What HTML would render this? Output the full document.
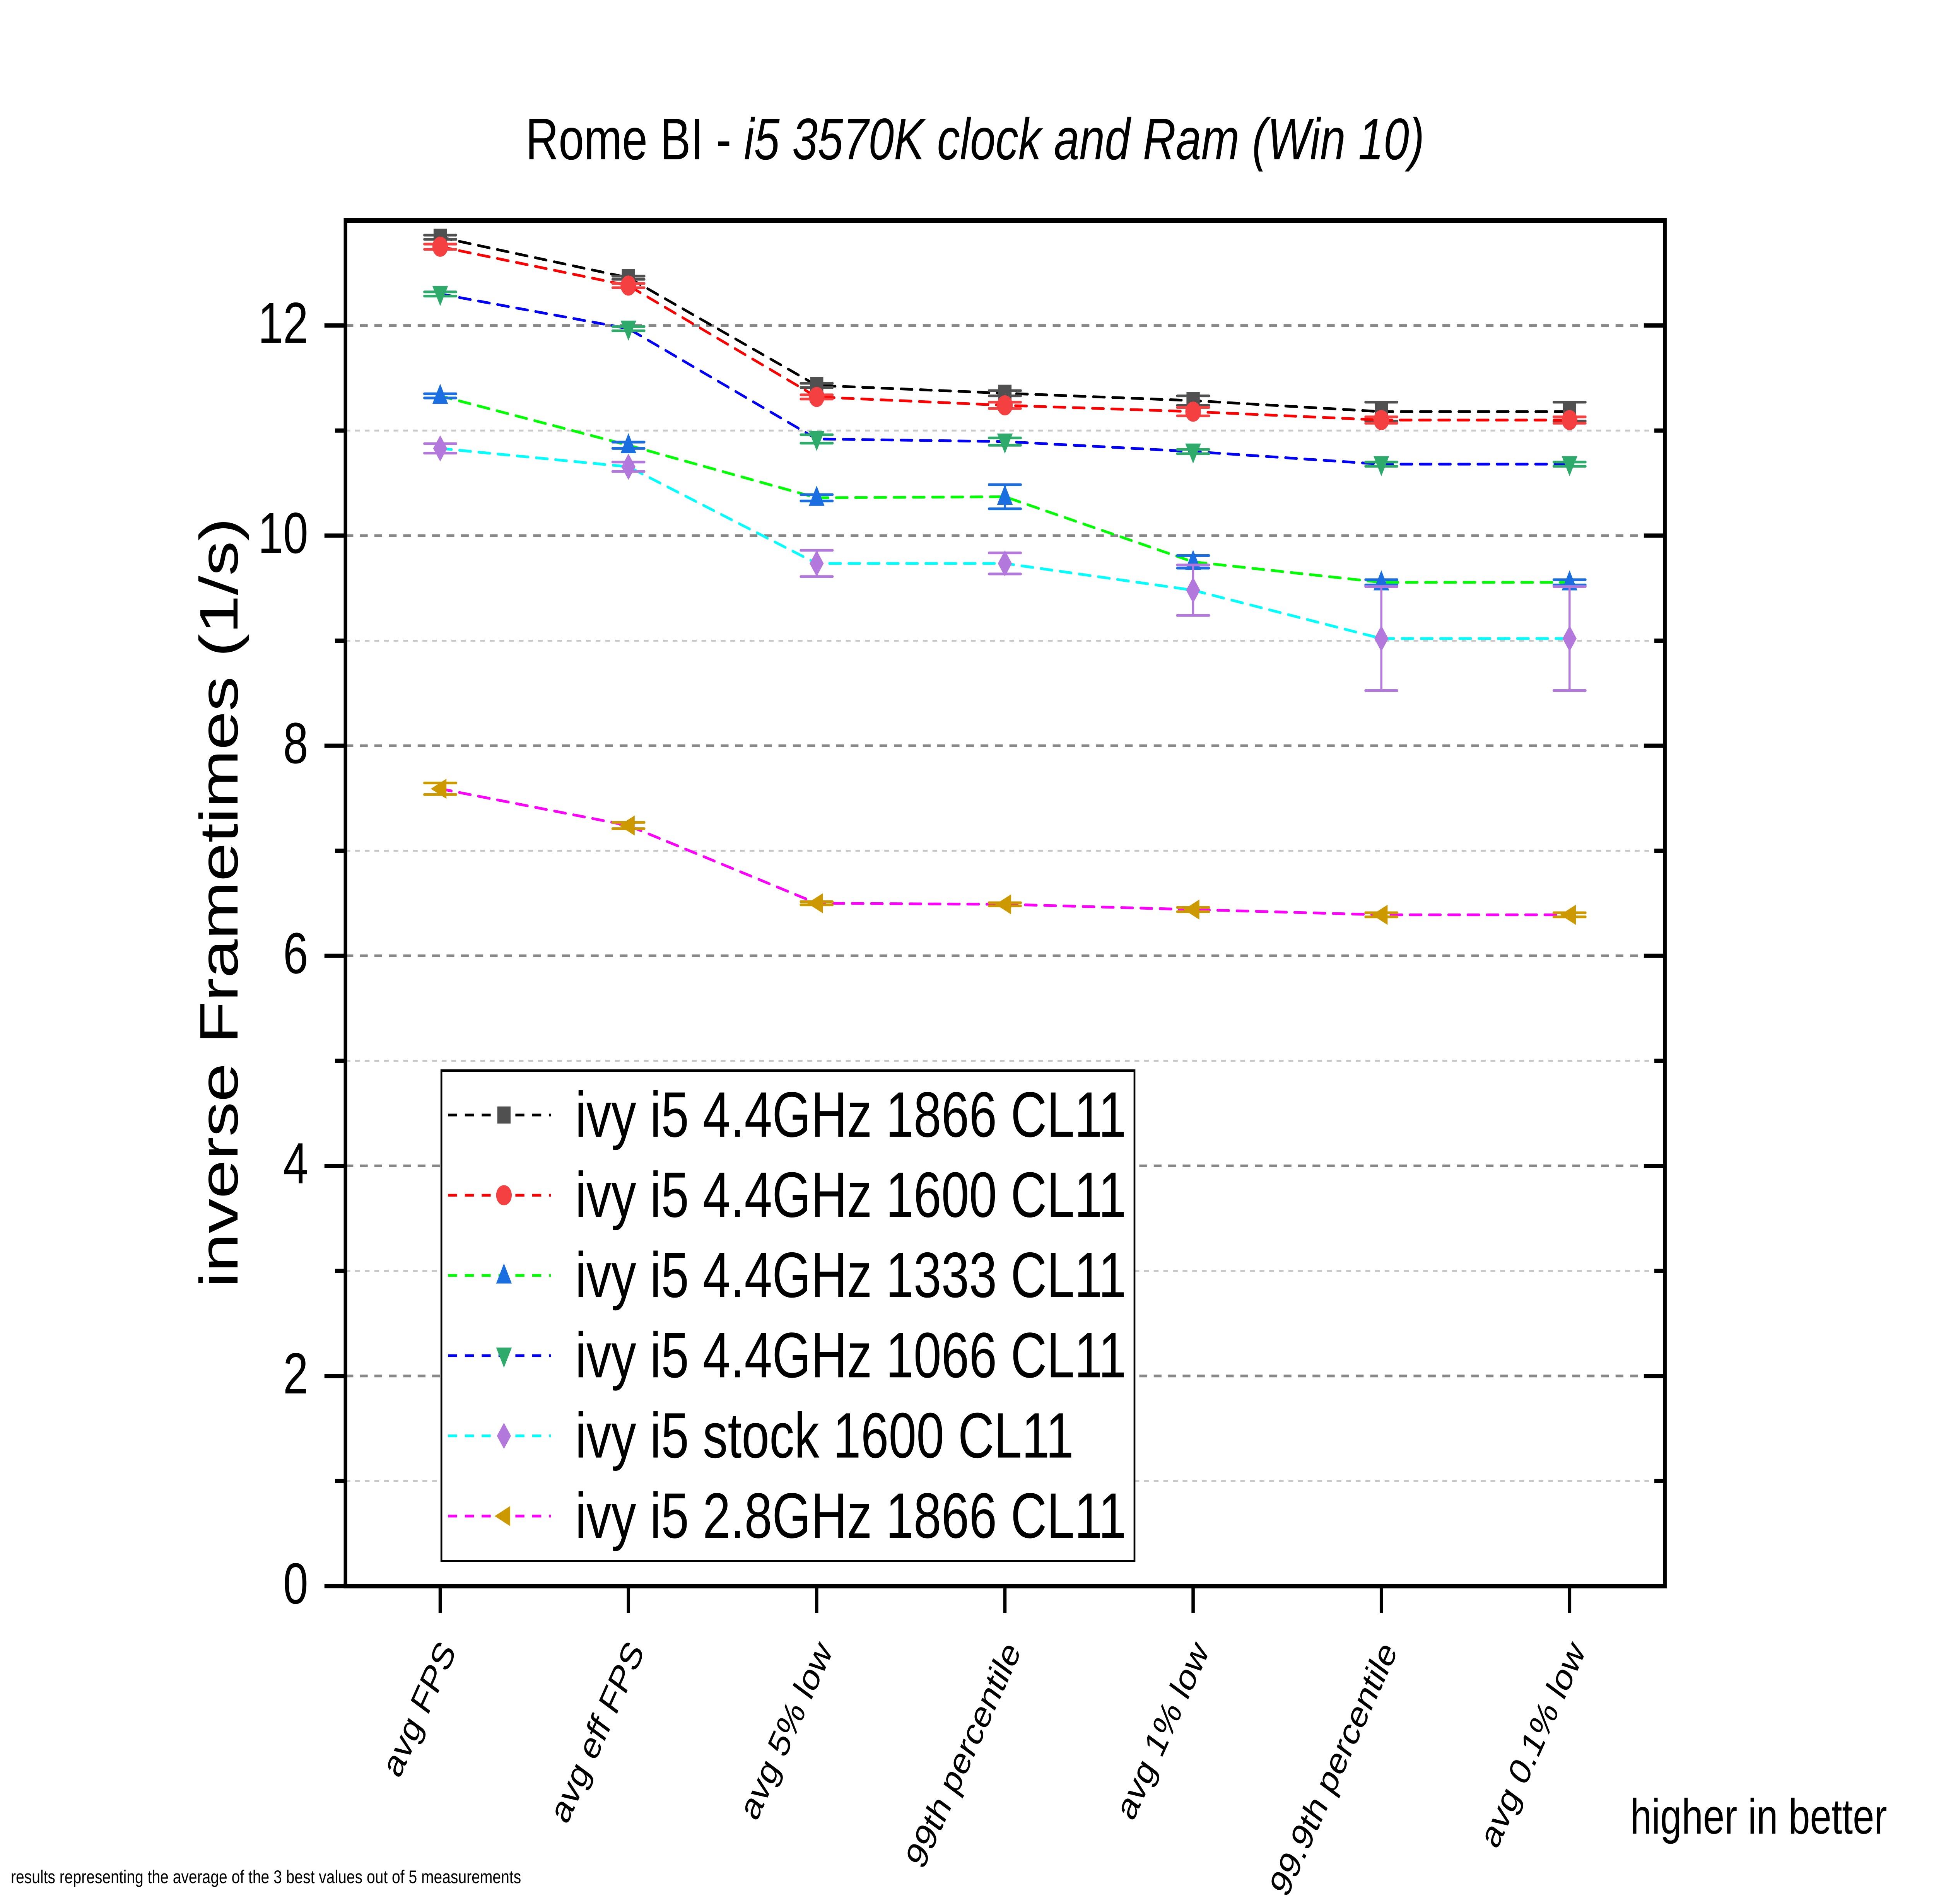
<!DOCTYPE html>
<html><head><meta charset="utf-8"><style>
html,body{margin:0;padding:0;background:#fff;width:100%;height:100%;overflow:hidden;}
svg{display:block;font-family:"Liberation Sans",Arial,sans-serif;width:100vw;height:100vh;}
</style></head><body>
<svg id="chart" xmlns="http://www.w3.org/2000/svg" viewBox="0 0 6432 4923" preserveAspectRatio="none">
<rect x="0" y="0" width="6432" height="4923" fill="#fff"/>
<text x="1748" y="412" font-size="152">Rome BI - <tspan font-style="italic">i5 3570K clock and Ram (Win 10)</tspan></text>
<g id="grid"></g>
<g id="series"></g>
<g id="axes"></g>
<text x="790" y="2334" font-size="180" text-anchor="middle" transform="rotate(-90 790 2334)">inverse Frametimes (1/s)</text>
<g id="legend"></g>
<text x="5422" y="4741" font-size="128">higher in better</text>
<text x="36" y="4869" font-size="47" textLength="1697" lengthAdjust="spacingAndGlyphs">results representing the average of the 3 best values out of 5 measurements</text>
</svg>
<script>
const categories = ["avg FPS","avg eff FPS","avg 5% low","99th percentile","avg 1% low","99.9th percentile","avg 0.1% low"];
const seriesNames = ["ivy i5 4.4GHz 1866 CL11","ivy i5 4.4GHz 1600 CL11","ivy i5 4.4GHz 1333 CL11","ivy i5 4.4GHz 1066 CL11","ivy i5 stock 1600 CL11","ivy i5 2.8GHz 1866 CL11"];
const s1866 = [12.84,12.455,11.43,11.355,11.285,11.18,11.18];
const e1866 = [0.02,0.015,0.02,0.025,0.045,0.09,0.09];
const s1600 = [12.75,12.38,11.32,11.24,11.18,11.10,11.10];
const e1600 = [0.025,0.02,0.02,0.03,0.04,0.03,0.03];
const s1333 = [11.33,10.86,10.36,10.37,9.75,9.555,9.555];
const e1333 = [0.02,0.03,0.03,0.115,0.06,0.025,0.025];
const s1066 = [12.30,11.97,10.92,10.895,10.80,10.68,10.68];
const e1066 = [0.02,0.02,0.04,0.035,0.02,0.02,0.02];
const sStock = [10.83,10.655,9.735,9.735,9.48,9.02,9.02];
const eStock = [0.045,0.045,0.125,0.10,0.24,0.495,0.495];
const s28 = [7.59,7.24,6.50,6.49,6.44,6.39,6.39];
const e28 = [0.055,0.03,0.015,0.015,0.02,0.02,0.02];
const yTicks = [0,2,4,6,8,10,12];
const yMinor = [1,3,5,7,9,11];

const NS="http://www.w3.org/2000/svg";
const L=1149,R=5537,T=570,B=4101;
const X0=1464,DX=626;
function xs(i){return X0+DX*i;}
function ys(v){return B-(B-T)*v/13;}
function mk(tag,attrs,parent){const e=document.createElementNS(NS,tag);for(const k in attrs)e.setAttribute(k,attrs[k]);parent.appendChild(e);return e;}

const grid=document.getElementById('grid');
yTicks.forEach(v=>{if(v===0)return;
 const g=mk('line',{x1:L,x2:R,y1:ys(v),y2:ys(v),stroke:'#888',"stroke-width":7,"stroke-dasharray":"26 22"},grid);
 
 });
yMinor.forEach(v=>{
 const g=mk('line',{x1:L,x2:R,y1:ys(v),y2:ys(v),stroke:'#c8c8c8',"stroke-width":5,"stroke-dasharray":"16 16"},grid);
 
 });

const styles=[
 {line:'#000',mcol:'#505050',shape:'square'},
 {line:'#ff0000',mcol:'#f44040',shape:'circle'},
 {line:'#00ff00',mcol:'#1a6ee0',shape:'up'},
 {line:'#0000ff',mcol:'#2eaa6a',shape:'down'},
 {line:'#00ffff',mcol:'#b278dc',shape:'diamond'},
 {line:'#ff00ff',mcol:'#cc9900',shape:'left'}];
const vals=[s1866,s1600,s1333,s1066,sStock,s28];
const errs=[e1866,e1600,e1333,e1066,eStock,e28];

function marker(shape,x,y,col,p){let e;const s=26;
 if(shape==='square')e=mk('rect',{x:x-s*0.85,y:y-s*0.85,width:s*1.7,height:s*1.7,fill:col},p);
 else if(shape==='circle')e=mk('circle',{cx:x,cy:y,r:s,fill:col},p);
 else if(shape==='up')e=mk('polygon',{points:`${x},${y-s*1.2} ${x+s},${y+s*0.8} ${x-s},${y+s*0.8}`,fill:col},p);
 else if(shape==='down')e=mk('polygon',{points:`${x},${y+s*1.2} ${x+s},${y-s*0.8} ${x-s},${y-s*0.8}`,fill:col},p);
 else if(shape==='diamond')e=mk('polygon',{points:`${x},${y-s*1.3} ${x+s*0.9},${y} ${x},${y+s*1.3} ${x-s*0.9},${y}`,fill:col},p);
 else e=mk('polygon',{points:`${x-s*1.2},${y} ${x+s*0.8},${y-s} ${x+s*0.8},${y+s}`,fill:col},p);
 return e;}

const sl=document.getElementById('series');
vals.forEach((arr,si)=>{
 const st=styles[si];
 const g=mk('g',{},sl);
 
 
 const pts=arr.map((v,i)=>xs(i)+','+ys(v)).join(' ');
 const pl=mk('polyline',{points:pts,fill:'none',stroke:st.line,"stroke-width":7,"stroke-dasharray":"38 26","stroke-linecap":"round"},g);
 
 
 arr.forEach((v,i)=>{
  const x=xs(i),e=errs[si][i];
  const eb=mk('path',{d:`M${x-53},${ys(v+e)}H${x+53}M${x},${ys(v+e)}V${ys(v-e)}M${x-53},${ys(v-e)}H${x+53}`,stroke:st.mcol,"stroke-width":7,fill:'none',"stroke-linecap":"round"},g);
  
  
  const m=marker(st.shape,x,ys(v),st.mcol,g);
  
  
 });
});

const ax=document.getElementById('axes');
const fr=mk('rect',{x:L,y:T,width:R-L,height:B-T,fill:'none',stroke:'#000',"stroke-width":12},ax);


yTicks.forEach(v=>{
 const t=mk('line',{x1:L-70,x2:L,y1:ys(v),y2:ys(v),stroke:'#000',"stroke-width":11},ax);
 
 
 const t2=mk('line',{x1:R-70,x2:R,y1:ys(v),y2:ys(v),stroke:'#000',"stroke-width":11},ax);
 
 
 const lb=mk('text',{x:1025,y:ys(v)+45,"font-size":150,"text-anchor":"end"},ax);
 lb.textContent=String(v);
 
 
});
yMinor.forEach(v=>{
 const t=mk('line',{x1:L-35,x2:L,y1:ys(v),y2:ys(v),stroke:'#000',"stroke-width":11},ax);
 
 
 const t2=mk('line',{x1:R-35,x2:R,y1:ys(v),y2:ys(v),stroke:'#000',"stroke-width":11},ax);
 
 
});
categories.forEach((c,i)=>{
 const x=xs(i);
 const t=mk('line',{x1:x,x2:x,y1:B,y2:B+70,stroke:'#000',"stroke-width":11},ax);
 
 
 const ax2=x+55,ay=4270;
 const lb=mk('text',{x:ax2,y:ay,"font-size":100,"text-anchor":"end",transform:`rotate(-60 ${ax2} ${ay})`},ax);
 lb.textContent=c;
 
 
});

const lg=document.getElementById('legend');
const box=mk('rect',{x:1468,y:2768,width:2305,height:1268,fill:'#fff',stroke:'#000',"stroke-width":6},lg);


seriesNames.forEach((n,si)=>{
 const cy=2883+207.4*si,st=styles[si];
 const g=mk('g',{},lg);
 
 
 mk('line',{x1:1490,x2:1832,y1:cy,y2:cy,stroke:st.line,"stroke-width":7,"stroke-dasharray":"30 26"},g);
 marker(st.shape,1676,cy,st.mcol,g);
 const t=mk('text',{x:1913,y:cy+56,"font-size":166},g);
 t.textContent=n;
 
 
});
</script>
</body></html>
